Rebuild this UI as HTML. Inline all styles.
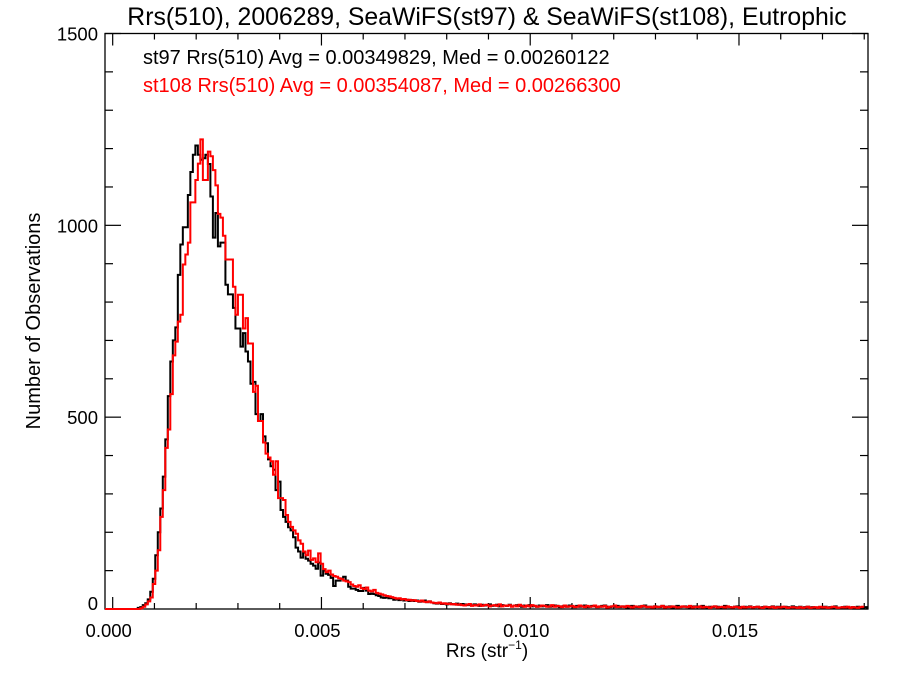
<!DOCTYPE html>
<html><head><meta charset="utf-8"><style>
body{margin:0;background:#fff;}
svg text{font-family:"Liberation Sans",Arial,sans-serif;}
</style></head><body>
<svg id="chart" width="900" height="675" xmlns="http://www.w3.org/2000/svg">
<text x="487" y="25" text-anchor="middle" font-size="24.8">Rrs(510), 2006289, SeaWiFS(st97) &amp; SeaWiFS(st108), Eutrophic</text>
<text x="143" y="64" font-size="20">st97 Rrs(510) Avg = 0.00349829, Med = 0.00260122</text>
<text x="143" y="92" font-size="20" fill="#ff0000">st108 Rrs(510) Avg = 0.00354087, Med = 0.00266300</text>
<text transform="translate(40,321) rotate(-90)" text-anchor="middle" font-size="20">Number of Observations</text>
<text x="487" y="657" text-anchor="middle" font-size="19">Rrs (str<tspan font-size="12" dy="-8">−1</tspan><tspan dy="8">)</tspan></text>
<g id="axes"></g>
<g id="series"></g>
</svg>
<script>
const binWidth = 0.00006;
const xTicks = [0.000, 0.005, 0.010, 0.015];
const xTickLabels = ["0.000", "0.005", "0.010", "0.015"];
const yTicks = [0, 500, 1000, 1500];
const yTickLabels = ["0", "500", "1000", "1500"];
const st97Counts = [0,0,0,0,0,0,0,0,0,0,3,5,10,15,25,45,
79,140,200,262,345,442,555,645,700,734,871,950,995,995,1079,1139,1184,1208,1184,1171,1175,1184,1160,1075,968,1032,945,955,955,845,820,820,785,731,731,684,719,671,645,587,592,508,490,508,450,432,390,372,363,310,332,258,240,227,213,205,187,160,
150,134,147,131,126,118,113,105,121,87,100,92,89,81,60,74,74,79,84,74,58,53,53,50,47,47,55,48,39,40,39,36,34,30,29,31,28,28,
24,26,23,25,22,24,21,23,21,22,19,20,22,18,20,17,15,14,16,13,14,12,15,13,12,14,11,13,
12,10,11,9,12,10,8,11,9,10,12,8,9,11,7,10,9,8,11,7,9,10,8,6,9,8,10,7,8,6,9,7,8,10,6,7,9,8,5,7,
8,6,9,7,5,8,6,7,9,5,6,8,7,5,6,8,9,6,5,7,6,8,5,7,6,4,7,8,6,5,7,6,9,5,6,4,7,6,5,8,
6,5,7,4,6,8,5,6,7,5,4,6,7,5,6,8,5,4,6,5,7,6,4,5,8,6,5,4,6,7,5,4,6,5,7,4,5,6,4,5,
6,4,5,7,4,6,5,3,6,5,4,7,5,4,6,3,5,6,4,5,3,4,
5,4,6,3,5,4,7,3,4,5,6,4,3,5,4,6,3,4,5,4,3];
const st108Counts = [0,0,0,0,0,0,0,0,0,0,0,2,6,12,20,30,
65,100,153,240,310,420,468,560,661,697,749,767,898,924,955,1060,1060,1118,1161,1224,1118,1118,1192,1180,1144,1104,1030,1020,973,911,911,911,840,767,819,819,731,758,692,692,566,582,490,490,434,405,395,385,350,385,289,289,284,245,227,214,205,196,179,
170,150,140,152,128,132,122,145,118,104,96,100,90,86,84,80,78,74,72,70,64,60,58,62,54,52,56,48,46,50,42,40,38,36,34,33,31,
29,27,28,25,26,23,24,22,23,21,20,22,19,18,20,17,16,15,17,14,15,13,14,12,13,
11,12,10,9,11,13,8,10,9,12,8,10,11,7,9,10,8,12,7,9,8,10,6,9,7,11,8,6,9,7,10,8,6,7,9,8,6,7,10,
6,8,7,5,9,6,7,8,5,6,9,7,5,8,6,7,9,5,7,6,8,4,6,7,9,5,6,7,5,8,6,4,7,6,5,8,7,5,6,4,
7,5,6,8,4,6,5,7,6,4,5,7,6,5,8,4,6,5,7,4,6,5,3,6,7,4,5,6,4,7,5,4,6,5,3,6,4,5,6,4,
5,6,4,3,6,5,4,6,3,5,4,6,5,3,4,5,4,3,5,3,4,6,3,
4,5,3,6,4,5,3,4,6,5,3,4,5,4,6,3,5,4,3,5,6];

const L=105, R=868, T=33.5, B=609;
const xMin=-0.000184, xMax=0.01809, yMin=0, yMax=1500;
function xs(v){return L+(v-xMin)/(xMax-xMin)*(R-L);}
function ys(v){return B-(v-yMin)/(yMax-yMin)*(B-T);}
const NS='http://www.w3.org/2000/svg';
function mk(tag,attrs,parent){const e=document.createElementNS(NS,tag);for(const k in attrs)e.setAttribute(k,attrs[k]);parent.appendChild(e);return e;}
const axes=document.getElementById('axes');
const frame=mk('rect',{x:L,y:T,width:R-L,height:B-T,fill:'none',stroke:'#000','stroke-width':1.3},axes);


for(let k=0;k<=18;k++){const v=k*0.001;const x=xs(v);const major=(k%5===0);const len=major?12:6;
 const t1=mk('line',{x1:x,x2:x,y1:B,y2:B-len,stroke:'#000','stroke-width':1.2},axes);
 
 
 const t2=mk('line',{x1:x,x2:x,y1:T,y2:T+len,stroke:'#000','stroke-width':1.2},axes);
 
 }
xTicks.forEach((v,i)=>{const t=mk('text',{x:xs(v)-4,y:B+28,'text-anchor':'middle','font-size':18.5},axes);t.textContent=xTickLabels[i];
 
 });
for(let k=0;k<=15;k++){const v=k*100;const y=ys(v);const major=(k%5===0);const len=major?16:8;
 const t1=mk('line',{x1:L,x2:L+len,y1:y,y2:y,stroke:'#000','stroke-width':1.2},axes);
 
 
 const t2=mk('line',{x1:R,x2:R-len,y1:y,y2:y,stroke:'#000','stroke-width':1.2},axes);
 
 }
yTicks.forEach((v,i)=>{let y=ys(v)+7; if(v===0)y-=6; const t=mk('text',{x:98,y:y,'text-anchor':'end','font-size':18.5},axes);t.textContent=yTickLabels[i];
 
 });
function stepPath(counts){let d='';let prevY=ys(0);
 for(let i=0;i<counts.length;i++){const x0=xs(i*binWidth);if(x0>=R)break;const x1=Math.min(xs((i+1)*binWidth),R);const y=ys(counts[i]);
  if(i===0)d+='M'+L+','+prevY+' L'+x0+','+prevY;
  d+=' L'+x0+','+y+' L'+x1+','+y; prevY=y;}
 return d;}
const series=document.getElementById('series');
const p1=mk('path',{d:stepPath(st97Counts),fill:'none',stroke:'#000','stroke-width':2},series);


const p2=mk('path',{d:stepPath(st108Counts),fill:'none',stroke:'#ff0000','stroke-width':2},series);


</script>
</body></html>
